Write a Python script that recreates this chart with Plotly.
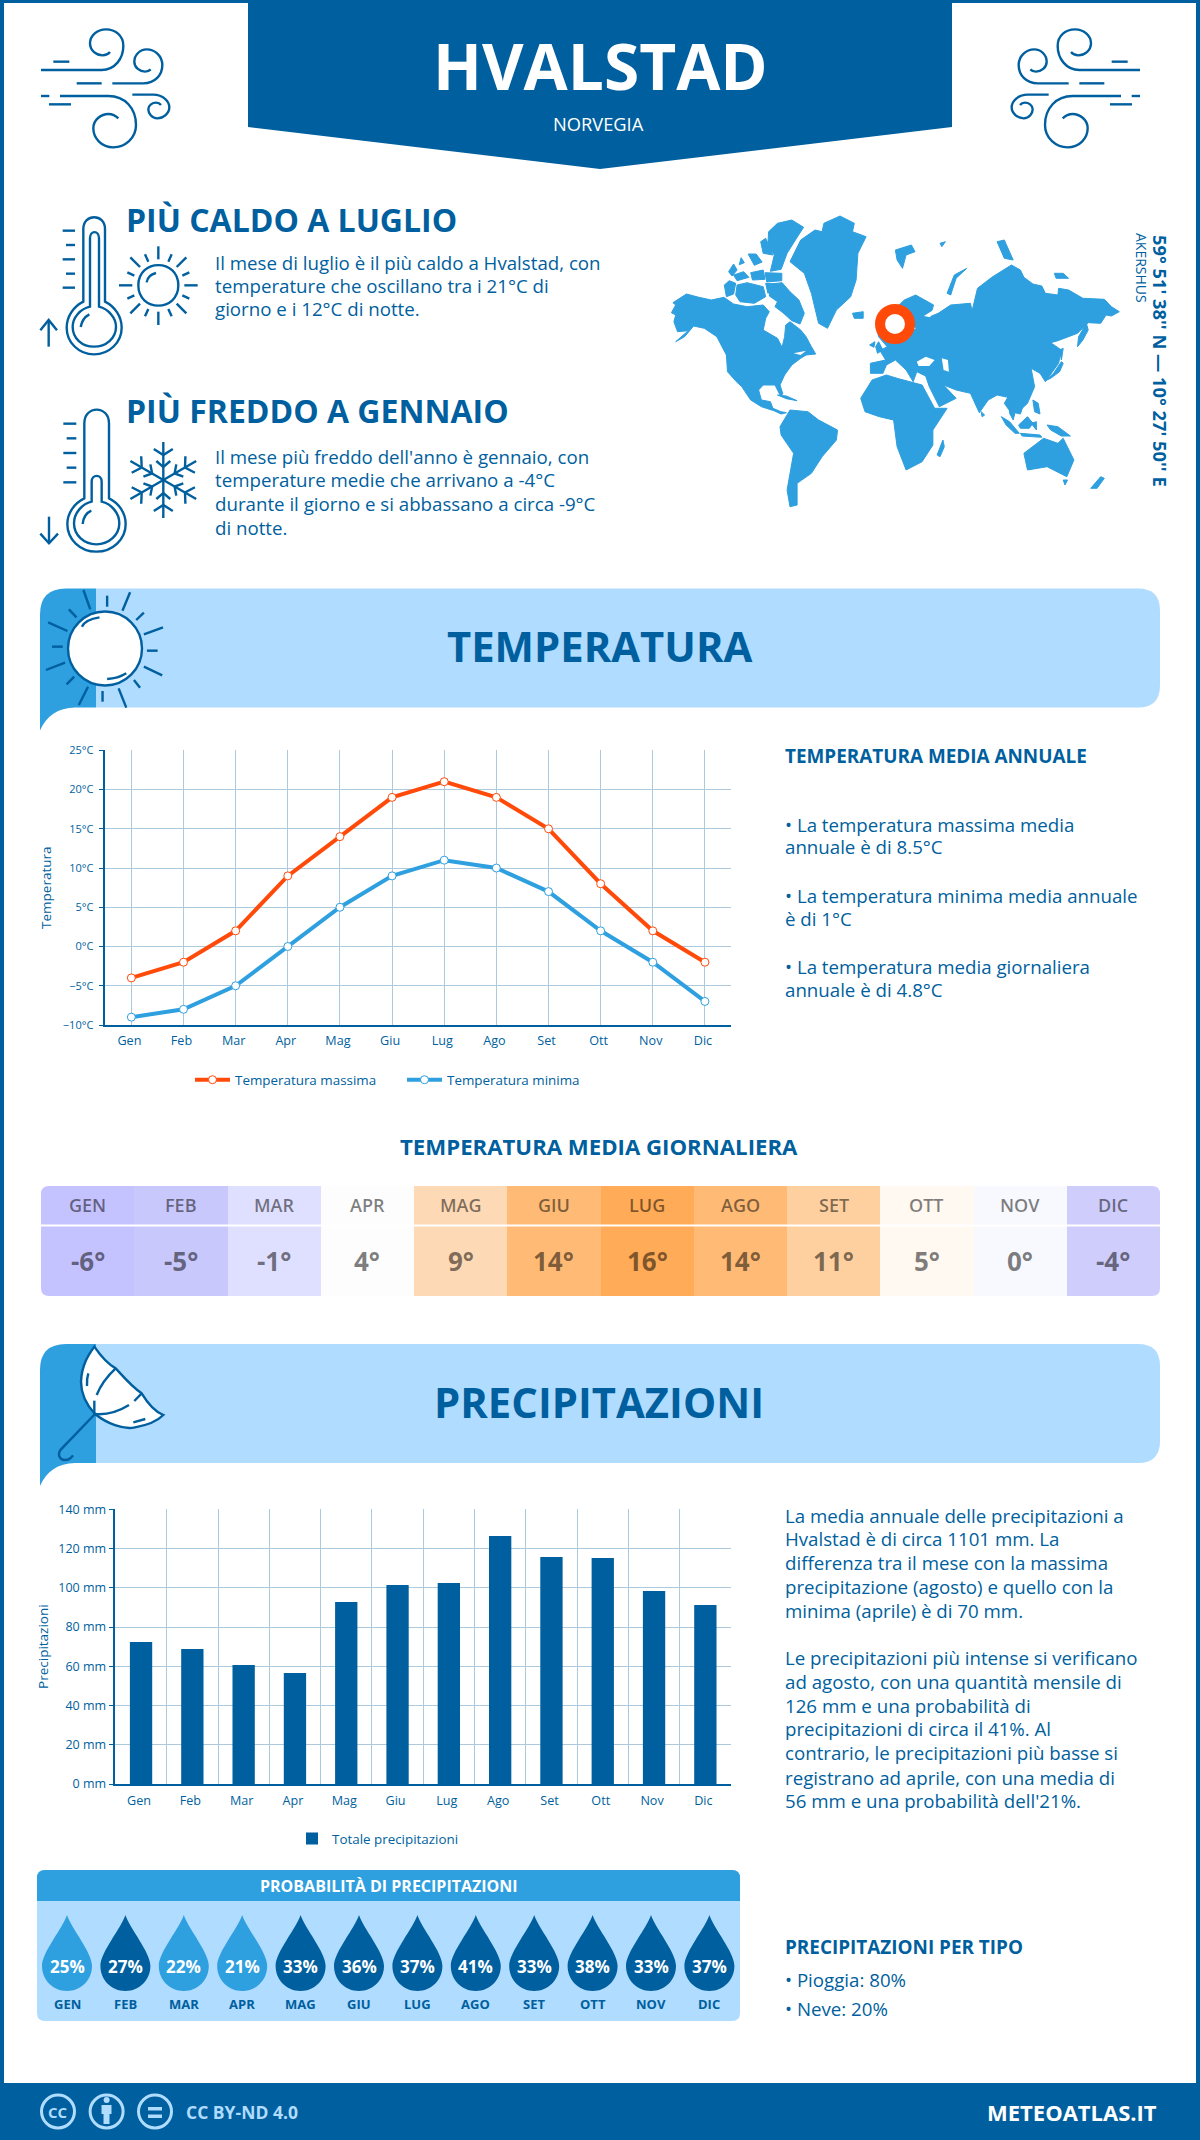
# HVALSTAD CLIMATE INFOGRAPHIC
# ============================

# LIBRARIES AND MODULES
# ----------------------
import math
import re

import plotly.graph_objects as charts

# DATA
# ----
monthLabels = ['Gen', 'Feb', 'Mar', 'Apr', 'Mag', 'Giu', 'Lug', 'Ago', 'Set', 'Ott', 'Nov', 'Dic']
monthCaps = ['GEN', 'FEB', 'MAR', 'APR', 'MAG', 'GIU', 'LUG', 'AGO', 'SET', 'OTT', 'NOV', 'DIC']
tempMax = [-4, -2, 2, 9, 14, 19, 21, 19, 15, 8, 2, -2]
tempMin = [-9, -8, -5, 0, 5, 9, 11, 10, 7, 2, -2, -7]
tempDaily = [-6, -5, -1, 4, 9, 14, 16, 14, 11, 5, 0, -4]
rainTotal = [72.4, 68.8, 60.7, 56.6, 92.8, 101.4, 102.4, 126.4, 115.7, 115.2, 98.4, 91.2]
rainChance = [25, 27, 22, 21, 33, 36, 37, 41, 33, 38, 33, 37]

# Colour of a daily temperature cell (temperature -> colour)
dailyStops = [-6, -5, -4, -1, 0, 4, 5, 9, 11, 14, 16]
dailyColors = ['#c5c3ff', '#c9c8fd', '#cfcdfc', '#dfdfff', '#f8f9fe', '#fdfdfe',
               '#fff9f2', '#fed9b5', '#fed0a0', '#ffbb75', '#ffab57']

# Colours and sizes of the page
DARK = '#005f9e'
MID = '#2e9fdf'
LIGHT = '#b0dcff'
ORANGE = '#ff4a0a'
GRID = '#adc9dd'
FONT = 'Open Sans'
PAGE_W = 1200
PAGE_H = 2140

shapes = []
notes = []


# FUNCTIONS

def domX(a, b):
    return [a / PAGE_W, b / PAGE_W]


def domY(top, bottom):
    return [1 - bottom / PAGE_H, 1 - top / PAGE_H]


def placePath(d, ox, oy, sx, sy=None, mirror=None):
    """Moves a path traced from a crop to page pixels

    Args:
        d (str): SVG path with absolute coordinates
        ox, oy (float): page position of the crop corner
        sx, sy (float): crop pixels to page pixels
        mirror (float): optional, x -> mirror - x

    Returns:
        str: path in page pixels
    """
    sy = sx if sy is None else sy
    numbers = iter(re.findall(r'-?\d+\.?\d*|[A-Za-z]', d))
    out = []
    for item in numbers:
        if item.isalpha():
            out.append(item)
        else:
            x = ox + float(item) * sx
            y = oy + float(next(numbers)) * sy
            if mirror is not None:
                x = mirror - x
            out.append(f'{x:.2f},{y:.2f}')
    return ' '.join(out)


def addPath(d, fill=None, line=DARK, width=2.4):
    shapes.append(dict(type='path', path=d, xref='x5', yref='y5',
                       fillcolor=fill if fill else 'rgba(0,0,0,0)',
                       line=dict(color=line if line else 'rgba(0,0,0,0)', width=width if line else 0)))


def roundBox(x0, y0, x1, y1, rTop, rBottom):
    return (f'M{x0 + rTop},{y0} L{x1 - rTop},{y0} Q{x1},{y0} {x1},{y0 + rTop} '
            f'L{x1},{y1 - rBottom} Q{x1},{y1} {x1 - rBottom},{y1} L{x0 + rBottom},{y1} '
            f'Q{x0},{y1} {x0},{y1 - rBottom} L{x0},{y0 + rTop} Q{x0},{y0} {x0 + rTop},{y0} Z')


def polygon(points, ox, oy, sx, sy):
    return 'M' + ' L'.join(f'{ox + x * sx:.1f},{oy + y * sy:.1f}' for x, y in points) + ' Z'


def label(x, y, text, size, color=DARK, weight=400, anchor='left', angle=0, xref='x5'):
    # Left aligned text and every baseline sit one pixel off otherwise
    if anchor == 'left':
        x = x - 1
    notes.append(dict(x=x, y=y - 1, xref=xref, yref='y5', text=text, showarrow=False, xanchor=anchor,
                      yanchor='middle', textangle=angle, borderpad=0,
                      font=dict(family=FONT, size=size, color=color, weight=weight)))


# PAGE FRAME AND HEADER
# ---------------------
addPath('M0,0 L1200,0 L1200,3 L0,3 Z', DARK, None)
addPath('M0,0 L4,0 L4,2140 L0,2140 Z', DARK, None)
addPath('M1196,0 L1200,0 L1200,2140 L1196,2140 Z', DARK, None)
addPath('M248,0 L952,0 L952,127 L600,169 L248,127 Z', DARK, None)
addPath('M0,2083 L1200,2083 L1200,2140 L0,2140 Z', DARK, None)

label(600, 66, 'HVALSTAD', 64, 'white', 700, 'center')
label(598, 124, 'NORVEGIA', 18.3, 'white', 400, 'center')

windPaths = [
    'M33 150 L215 150 C255 150 280 115 280 78 C280 45 255 28 228 28 C200 28 180 48 180 70 C180 92 200 106 218 106 C228 106 235 102 240 96',
    'M70 125 L118 125',
    'M247 190 L340 190 C375 190 397 165 397 135 C397 108 375 88 350 88 C330 88 313 105 313 125 C313 143 330 155 345 155 C352 155 358 152 362 148',
    'M140 190 L215 190',
    'M90 228 L235 228 C285 228 318 265 318 315 C318 355 285 382 250 382 C215 382 190 355 190 325 C190 298 215 282 235 282 C248 282 258 288 265 295',
    'M33 228 L58 228',
    'M57 253 L123 253',
    'M307 224 L370 224 C400 224 418 245 418 262 C418 280 400 295 382 295 C365 295 355 280 355 268 C355 255 368 248 378 248 C385 248 390 251 393 255',
]
for windPath in windPaths:
    addPath(placePath(windPath, 30, 20, 1 / 3))
    addPath(placePath(windPath, 30, 20, 1 / 3, mirror=1181))

# HOT AND COLD BLOCKS
# -------------------
hotPaths = [
    'M160 290 L160 72 C160 25 225 25 225 72 L225 290 C255 305 275 335 275 368 C275 412 238 448 192 448 C146 448 110 412 110 368 C110 335 130 305 160 290 Z',
    'M180 305 L180 100 C180 75 207 75 207 100 L207 305 C235 312 258 338 258 365 C258 400 228 425 192 425 C156 425 128 400 128 365 C128 338 150 312 180 305 Z',
    'M152 366 C155 348 165 335 178 328',
    'M98 77 L135 77', 'M108 120 L135 120', 'M98 163 L135 163', 'M108 206 L135 206', 'M98 248 L135 248',
    'M56 425 L56 345', 'M31 376 L56 345 L81 376',
    'M325 241 C325 160 445 160 445 241 C445 322 325 322 325 241 Z',
    'M350 232 C352 218 362 208 378 204',
    'M385 124 L385 163', 'M385 320 L385 360', 'M267 241 L307 241', 'M463 241 L503 241',
    'M301 157 L330 186', 'M469 157 L440 186', 'M301 325 L330 296', 'M469 325 L440 296',
    'M345 148 L355 170', 'M425 148 L415 170', 'M292 202 L313 212', 'M478 202 L457 212',
    'M292 281 L313 271', 'M478 281 L457 271', 'M345 334 L355 312', 'M425 334 L415 312',
]
for hotPath in hotPaths:
    addPath(placePath(hotPath, 30, 205, 1 / 3))

coldPaths = [
    'M163 295 L163 70 C163 15 237 15 237 70 L237 295 C268 310 287 340 287 372 C287 418 248 455 199 455 C150 455 112 418 112 372 C112 340 132 310 163 295 Z',
    'M185 305 L185 245 C185 222 215 222 215 245 L215 305 C245 312 268 340 268 370 C268 405 237 433 199 433 C161 433 132 405 132 370 C132 340 155 312 185 305 Z',
    'M158 372 C160 352 170 338 184 332',
    'M100 71 L139 71', 'M110 115 L139 115', 'M100 159 L139 159', 'M110 203 L139 203', 'M100 247 L139 247',
    'M57 350 L57 430', 'M31 401 L57 430 L84 401',
]
for coldPath in coldPaths:
    addPath(placePath(coldPath, 30, 400, 1 / 3))

# Snowflake arms, one every 60 degrees
flakeX = 30 + 400 / 3
flakeY = 400 + 240 / 3
for arm in range(6):
    angle = math.radians(arm * 60)
    ax = math.sin(angle)
    ay = -math.cos(angle)

    def flakePoint(r, side=0):
        return f'{flakeX + ax * r - ay * side:.1f},{flakeY + ay * r + ax * side:.1f}'

    addPath(f'M{flakeX},{flakeY} L{flakePoint(38)}')
    addPath(f'M{flakePoint(31, -9.5)} L{flakePoint(25)} L{flakePoint(31, 9.5)}')
    addPath(f'M{flakePoint(19, -7)} L{flakePoint(13)} L{flakePoint(19, 7)}')

label(126, 220, 'PIÙ CALDO A LUGLIO', 32, DARK, 700)
hotLines = ['Il mese di luglio è il più caldo a Hvalstad, con',
            'temperature che oscillano tra i 21°C di',
            'giorno e i 12°C di notte.']
for lineY, text in zip([263, 286, 309], hotLines):
    label(215, lineY, text, 18.7)

label(126, 411, 'PIÙ FREDDO A GENNAIO', 32, DARK, 700)
coldLines = ['Il mese più freddo dell\'anno è gennaio, con',
             'temperature medie che arrivano a -4°C',
             'durante il giorno e si abbassano a circa -9°C',
             'di notte.']
for lineY, text in zip([457, 480, 504, 528], coldLines):
    label(215, lineY, text, 18.7)

# ---------------------------------------
landParts = [
    [(88, 368), (100, 345), (92, 338), (130, 312), (165, 322), (200, 330), (235, 322), (262, 342), (300, 350), (345, 345), (362, 365), (352, 385), (345, 420), (385, 445), (398, 472), (405, 440), (408, 405), (420, 395), (450, 420), (465, 440), (480, 470), (492, 492), (465, 495), (450, 505), (425, 525), (405, 555), (392, 585), (400, 612), (392, 615), (378, 585), (345, 585), (332, 600), (340, 630), (365, 635), (372, 655), (395, 665), (410, 668), (395, 672), (375, 662), (340, 650), (310, 630), (285, 590), (270, 575), (245, 545), (242, 495), (215, 440), (180, 415), (150, 408), (125, 440), (100, 455), (135, 422), (105, 425), (95, 395), (100, 375)],
    # Arctic islands
    [(365, 282), (398, 278), (420, 305), (445, 330), (460, 370), (448, 402), (425, 392), (400, 368), (378, 350), (385, 335), (362, 318)],
    [(236, 285), (250, 272), (268, 280), (262, 312), (242, 320)],
    [(272, 285), (300, 278), (345, 290), (352, 320), (320, 340), (280, 335), (268, 315)],
    [(248, 245), (262, 222), (272, 240), (258, 258)],
    [(262, 255), (290, 245), (305, 262), (272, 272)],
    [(310, 248), (345, 240), (350, 268), (315, 270)],
    [(350, 248), (397, 250), (397, 272), (355, 276)],
    [(352, 280), (378, 282), (375, 300), (358, 310)],
    [(303, 192), (325, 192), (342, 216), (320, 226)],
    [(283, 203), (292, 218), (278, 224)],
    [(338, 155), (352, 145), (372, 195), (345, 190)],
    [(360, 125), (385, 100), (425, 90), (458, 112), (435, 150), (412, 190), (395, 238), (365, 244), (376, 195), (358, 165)],
    [(515, 100), (560, 78), (600, 100), (595, 125), (633, 140), (610, 190), (605, 270), (590, 320), (550, 360), (525, 415), (500, 400), (480, 310), (460, 250), (420, 215), (450, 150), (490, 120), (510, 125)],
    [(595, 370), (625, 365), (625, 385), (600, 385)],
    [(715, 180), (760, 165), (770, 185), (745, 195), (735, 235), (720, 210)],
    [(860, 310), (880, 255), (915, 235), (885, 265), (870, 315)],
    [(840, 160), (855, 155), (845, 170)],
    [(1000, 155), (1020, 150), (1045, 210), (1020, 205)],
    [(1160, 250), (1185, 250), (1200, 265), (1165, 265)],
    # Eurasia, Africa, South America
    [(645, 520), (688, 510), (672, 482), (692, 470), (668, 440), (665, 425), (700, 372), (740, 330), (772, 315), (822, 345), (812, 380), (835, 370), (870, 345), (925, 340), (930, 362), (945, 295), (985, 262), (1040, 225), (1065, 240), (1075, 262), (1100, 282), (1125, 288), (1135, 310), (1170, 315), (1172, 295), (1200, 300), (1240, 325), (1300, 328), (1320, 350), (1342, 365), (1320, 378), (1305, 375), (1290, 400), (1255, 398), (1225, 430), (1170, 452), (1150, 458), (1180, 480), (1172, 520), (1155, 545), (1135, 575), (1120, 550), (1095, 535), (1105, 590), (1085, 640), (1060, 665), (1040, 640), (1030, 622), (1000, 615), (975, 630), (950, 668), (925, 610), (885, 600), (850, 585), (885, 625), (838, 650), (810, 590), (800, 558), (775, 545), (765, 575), (745, 540), (715, 510), (690, 525), (680, 550), (645, 550)],
    [(618, 625), (650, 570), (690, 555), (720, 565), (790, 585), (825, 655), (860, 655), (820, 720), (820, 765), (790, 815), (745, 840), (720, 770), (710, 690), (670, 680), (630, 665)],
    [(392, 710), (420, 660), (470, 665), (500, 690), (553, 720), (550, 750), (510, 800), (480, 850), (440, 880), (440, 945), (420, 950), (412, 900), (430, 790), (395, 735)],
    # Smaller land
    [(832, 795), (848, 750), (852, 770), (840, 800)],
    [(1075, 790), (1130, 745), (1170, 760), (1185, 745), (1215, 810), (1195, 860), (1140, 830), (1085, 840)],
    [(1262, 895), (1290, 860), (1300, 865), (1280, 895)],
    [(1185, 870), (1197, 870), (1190, 885)],
    [(1135, 572), (1158, 550), (1170, 530), (1180, 515), (1185, 520), (1175, 545), (1150, 565)],
    [(1225, 470), (1228, 440), (1250, 400), (1255, 420), (1240, 450)],
    [(668, 455), (680, 480), (665, 490), (660, 470)],
    [(643, 465), (658, 455), (655, 472)],
    [(385, 615), (410, 618), (440, 632), (410, 626)],
    [(1100, 630), (1115, 640), (1120, 672), (1105, 665)],
    [(1095, 700), (1110, 695), (1110, 720)],
    [(955, 665), (965, 675), (958, 680)],
    [(1012, 680), (1035, 695), (1062, 730), (1050, 730), (1025, 705)],
    [(1060, 705), (1085, 680), (1100, 700), (1090, 715), (1065, 715)],
    [(1065, 730), (1120, 735), (1125, 742), (1070, 738)],
    [(1140, 705), (1170, 710), (1205, 738), (1180, 738), (1150, 720)],
    [(1020, 640), (1030, 622), (1050, 665), (1040, 670)],
    [(1035, 630), (1075, 640), (1065, 672), (1050, 668), (1045, 690), (1035, 670)],
    [(1175, 480), (1185, 475), (1180, 510)],
]
for part in landParts:
    addPath(polygon(part, 640, 190, 1 / 2.8, 1 / 3), MID, MID, 1)

seaParts = [
    [(775, 515), (800, 500), (825, 510), (810, 528), (780, 528)],
    [(845, 505), (862, 510), (865, 545), (850, 540)],
    [(795, 378), (825, 358), (812, 382)],
    [(745, 392), (772, 415), (760, 425)],
    [(430, 490), (465, 482), (450, 495)],
]
for part in seaParts:
    addPath(polygon(part, 640, 190, 1 / 2.8, 1 / 3), 'white', None)

# Marker of the place
shapes.append(dict(type='circle', xref='x5', yref='y5', x0=880, x1=910, y0=309, y1=339,
                   fillcolor='white', line=dict(color=ORANGE, width=10)))
label(1161, 362, '59° 51\' 38\'\' N — 10° 27\' 50\'\' E', 18.3, DARK, 700, 'center', 90)
label(1142, 269, 'AKERSHUS', 14, DARK, 400, 'center', 90)


# SECTION HEADERS
# ---------------
def sectionBand(top, title):
    """Draws a light band with the dark strip on its left side"""
    bottom = top + 119
    addPath(f'M96,{top} L1138,{top} Q1160,{top} 1160,{top + 22} L1160,{bottom - 22} '
            f'Q1160,{bottom} 1138,{bottom} L96,{bottom} Z', LIGHT, None)
    addPath(f'M40,{bottom + 23} L40,{top + 26} Q40,{top} 66,{top} L96,{top} L96,{bottom} L75,{bottom} '
            f'C58,{bottom} 46,{bottom + 9} 40,{bottom + 23} Z', MID, None)
    label(599, top + 58, title, 41.8, DARK, 700, 'center')


sectionBand(588.5, 'TEMPERATURA')
sectionBand(1344, 'PRECIPITAZIONI')

sunRays = [(170, 37, 160, 92), (140, 47, 140, 80), (109, 30, 118, 88), (90, 88, 100, 112),
           (178, 120, 188, 98), (63, 127, 88, 153), (213, 142, 188, 163), (68, 200, 82, 200),
           (192, 212, 206, 212), (60, 270, 85, 248), (212, 286, 188, 260), (87, 313, 97, 290),
           (183, 323, 175, 300), (103, 375, 115, 320), (134, 365, 134, 333), (165, 383, 155, 325)]
for x0, y0, x1, y1 in sunRays:
    addPath(placePath(f'M{x0} {y0} L{x1} {y1}', 0, 580, 1 / 1.3067, 1 / 3))
shapes.append(dict(type='circle', xref='x5', yref='y5', x0=68, x1=142, y0=611.5, y1=685.5,
                   fillcolor='white', line=dict(color=DARK, width=2.4)))
addPath(placePath('M107 140 C110 125 118 116 130 112', 0, 580, 1 / 1.3067, 1 / 3))
addPath(placePath('M140 297 C150 296 158 290 165 280', 0, 580, 1 / 1.3067, 1 / 3))

# Umbrella of the precipitation band
addPath(placePath('M178 20 C160 45 140 75 138 125 C138 165 155 195 180 222 C215 250 265 270 300 262 C340 255 370 240 385 225 '
                  'C360 215 335 185 320 160 C290 140 265 110 242 85 C215 70 195 45 178 20 Z', 35, 1340, 1 / 3), 'white')
umbrellaPaths = [
    'M242 85 C215 110 195 140 185 165',
    'M178 182 L178 222',
    'M180 222 C215 225 250 215 282 195',
    'M298 183 L320 160',
    'M160 100 C156 112 155 125 156 138',
    'M295 247 L331 237',
    'M180 222 L78 328 C65 345 75 360 90 360 C100 360 110 352 114 346',
]
for umbrellaPath in umbrellaPaths:
    addPath(placePath(umbrellaPath, 35, 1340, 1 / 3))

# TEXT NEXT TO THE CHARTS
# -----------------------
label(785, 757, 'TEMPERATURA MEDIA ANNUALE', 18.9, DARK, 700)
tempLines = ['• La temperatura massima media', 'annuale è di 8.5°C',
             '• La temperatura minima media annuale', 'è di 1°C',
             '• La temperatura media giornaliera', 'annuale è di 4.8°C']
for lineY, text in zip([825, 847.5, 896, 919, 967, 990.7], tempLines):
    label(785, lineY, text, 18.7)

rainLines = ['La media annuale delle precipitazioni a', 'Hvalstad è di circa 1101 mm. La',
             'differenza tra il mese con la massima', 'precipitazione (agosto) e quello con la',
             'minima (aprile) è di 70 mm.',
             'Le precipitazioni più intense si verificano', 'ad agosto, con una quantità mensile di',
             '126 mm e una probabilità di', 'precipitazioni di circa il 41%. Al',
             'contrario, le precipitazioni più basse si', 'registrano ad aprile, con una media di',
             '56 mm e una probabilità dell\'21%.']
rainLineY = [1516, 1539, 1563.4, 1587.6, 1611.7, 1658.6, 1682.8, 1706.6, 1729.7, 1753.8, 1778, 1801.4]
for lineY, text in zip(rainLineY, rainLines):
    label(785, lineY, text, 18.7)

label(785, 1947.6, 'PRECIPITAZIONI PER TIPO', 18.9, DARK, 700)
label(785, 1980, '• Pioggia: 80%', 18.7)
label(785, 2009, '• Neve: 20%', 18.7)

# DAILY TEMPERATURE STRIP
# -----------------------
label(599, 1147, 'TEMPERATURA MEDIA GIORNALIERA', 22.2, DARK, 700, 'center')
for cap, temp in zip(monthCaps, tempDaily):
    label(cap, 1205.7, cap, 18, 'rgba(0,0,0,0.5)', 600, 'center', xref='x3')
    label(cap, 1262, f'{temp}°', 26, 'rgba(0,0,0,0.52)', 700, 'center', xref='x3')
addPath('M41,1225.5 L1160,1225.5', None, 'white', 2)
# White corners make the strip look rounded
for cornerPath in ['M41,1186 L49,1186 Q41,1186 41,1194 Z', 'M1160,1186 L1152,1186 Q1160,1186 1160,1194 Z',
                   'M41,1296 L49,1296 Q41,1296 41,1288 Z', 'M1160,1296 L1152,1296 Q1160,1296 1160,1288 Z']:
    addPath(cornerPath, 'white', None)

# PROBABILITY PANEL
# -----------------
addPath(roundBox(37, 1870, 740, 2021, 8, 8), LIGHT, None)
addPath('M37,1901 L37,1878 Q37,1870 45,1870 L732,1870 Q740,1870 740,1878 L740,1901 Z', MID, None)
label(389, 1887, 'PROBABILITÀ DI PRECIPITAZIONI', 16, 'white', 700, 'center')
dropPath = 'M0,51 C4,38 25,14 25,0 C25,-14 14,-25 0,-25 C-14,-25 -25,-14 -25,0 C-25,14 -4,38 0,51 Z'
for ix, (cap, chance) in enumerate(zip(monthCaps, rainChance)):
    shapes.append(dict(type='path', path=dropPath, xref='x4', yref='y5', xsizemode='pixel', ysizemode='pixel',
                       xanchor=ix, yanchor=1966, fillcolor=MID if chance <= 25 else DARK, line=dict(width=0)))
    label(ix, 1967, f'{chance}%', 17, 'white', 700, 'center', xref='x4')
    label(ix, 2004.7, cap, 13, DARK, 700, 'center', xref='x4')

# FOOTER
# ------
for circleX in [58, 106.6, 155]:
    shapes.append(dict(type='circle', xref='x5', yref='y5', x0=circleX - 16.5, x1=circleX + 16.5, y0=2095, y1=2128,
                       line=dict(color=LIGHT, width=3)))
label(58, 2112.5, 'CC', 15, LIGHT, 700, 'center')
shapes.append(dict(type='circle', xref='x5', yref='y5', x0=103.6, x1=109.6, y0=2097, y1=2103,
                   fillcolor=LIGHT, line=dict(width=0)))
addPath('M101.5,2105 L111.5,2105 L111.5,2114 L109.5,2114 L109.5,2124 L103.5,2124 L103.5,2114 L101.5,2114 Z', LIGHT, None)
addPath('M148,2107 L162,2107 L162,2110.5 L148,2110.5 Z', LIGHT, None)
addPath('M148,2114.5 L162,2114.5 L162,2118 L148,2118 Z', LIGHT, None)
label(186, 2113, 'CC BY-ND 4.0', 17.5, LIGHT, 700)
label(1158, 2113, 'METEOATLAS.IT', 22, 'white', 700, 'right')

# CHARTS
# ------
figure = charts.Figure()

# Empty traces for the helper axes
figure.add_trace(charts.Scatter(x=[], y=[], xaxis='x5', yaxis='y5', showlegend=False, hoverinfo='skip'))
figure.add_trace(charts.Scatter(x=[], y=[], xaxis='x4', yaxis='y5', showlegend=False, hoverinfo='skip'))

figure.add_trace(charts.Scatter(
    x=monthLabels, y=tempMax, name='Temperatura massima', mode='lines+markers',
    line=dict(color=ORANGE, width=4),
    marker=dict(color='white', size=8, line=dict(color=ORANGE, width=1)),
    xaxis='x', yaxis='y', legend='legend'))
figure.add_trace(charts.Scatter(
    x=monthLabels, y=tempMin, name='Temperatura minima', mode='lines+markers',
    line=dict(color=MID, width=4),
    marker=dict(color='white', size=8, line=dict(color=MID, width=1)),
    xaxis='x', yaxis='y', legend='legend'))
figure.add_trace(charts.Bar(
    x=monthLabels, y=rainTotal, name='Totale precipitazioni', marker=dict(color=DARK, line=dict(width=0)),
    xaxis='x2', yaxis='y2', legend='legend2'))

# Daily temperature cells, the colour follows the value
zLow = dailyStops[0]
zHigh = dailyStops[-1]
figure.add_trace(charts.Heatmap(
    x=monthCaps, y=['t'], z=[tempDaily], zmin=zLow, zmax=zHigh, showscale=False, hoverinfo='skip',
    colorscale=[[(stop - zLow) / (zHigh - zLow), color] for stop, color in zip(dailyStops, dailyColors)],
    xaxis='x3', yaxis='y3'))

yTickFont = dict(family=FONT, size=11, color=DARK)
xTickFont = dict(family=FONT, size=12.6, color=DARK)
titleFont = dict(family=FONT, size=13.5, color=DARK)
legendFont = dict(family=FONT, size=13.4, color=DARK)
figure.update_layout(
    width=PAGE_W, height=PAGE_H, autosize=False, margin=dict(l=0, r=0, t=0, b=0, pad=0, autoexpand=False),
    paper_bgcolor='white', plot_bgcolor='rgba(0,0,0,0)', font=dict(family=FONT, color=DARK),
    shapes=shapes, annotations=notes, bargap=0.565,
    xaxis=dict(domain=domX(105.3, 731), anchor='y', type='category', range=[-0.5, 11.5], showgrid=True,
               gridcolor=GRID, gridwidth=1, showline=True, linecolor=DARK, linewidth=1.5, zeroline=False,
               ticks='outside', ticklen=3, tickcolor='rgba(0,0,0,0)', tickfont=xTickFont, ticklabelshift=-2),
    yaxis=dict(domain=domY(750.3, 1025), anchor='x', range=[-10, 25], dtick=5, ticksuffix='°C', showgrid=True,
               gridcolor=GRID, gridwidth=1.2, showline=True, linecolor=DARK, linewidth=1.5, zeroline=False,
               ticks='outside', ticklen=5, tickcolor=DARK, tickfont=yTickFont, ticklabelstandoff=3,
               title=dict(text='Temperatura', font=titleFont, standoff=8)),
    xaxis2=dict(domain=domX(115.4, 730.5), anchor='y2', type='category', range=[-0.5, 11.49], tickson='boundaries',
                showgrid=True, gridcolor=GRID, gridwidth=1, showline=True, linecolor=DARK, linewidth=1.5,
                zeroline=False, ticks='outside', ticklen=5, tickcolor='rgba(0,0,0,0)', tickfont=xTickFont,
                ticklabelshift=-2, ticklabelstandoff=4),
    yaxis2=dict(domain=domY(1509.3, 1784), anchor='x2', range=[0, 140], dtick=20, ticksuffix=' mm', showgrid=True,
                gridcolor=GRID, gridwidth=1.2, showline=True, linecolor=DARK, linewidth=1.5, zeroline=False,
                ticks='outside', ticklen=5, tickcolor=DARK, tickfont=dict(family=FONT, size=12.5, color=DARK),
                title=dict(text='Precipitazioni', font=titleFont, standoff=7)),
    xaxis3=dict(domain=domX(41, 1160), anchor='y3', visible=False, fixedrange=True),
    yaxis3=dict(domain=domY(1186, 1296), anchor='x3', visible=False, fixedrange=True),
    xaxis4=dict(domain=domX(37.8, 738.6), anchor='y5', range=[-0.5, 11.5], visible=False, fixedrange=True),
    xaxis5=dict(domain=[0, 1], anchor='y5', range=[0, PAGE_W], visible=False, fixedrange=True),
    yaxis5=dict(domain=[0, 1], anchor='x5', range=[PAGE_H, 0], visible=False, fixedrange=True),
    legend=dict(orientation='h', x=190 / PAGE_W, xanchor='left', y=1 - 1080 / PAGE_H, yanchor='middle',
                font=legendFont, bgcolor='rgba(0,0,0,0)', itemwidth=35, entrywidth=162, entrywidthmode='pixels'),
    legend2=dict(orientation='h', x=292 / PAGE_W, xanchor='left', y=1 - 1838.7 / PAGE_H, yanchor='middle',
                 font=legendFont, bgcolor='rgba(0,0,0,0)'),
)

figure.write_html('out.html', config=dict(displayModeBar=False), post_script="document.body.style.margin='0';")
